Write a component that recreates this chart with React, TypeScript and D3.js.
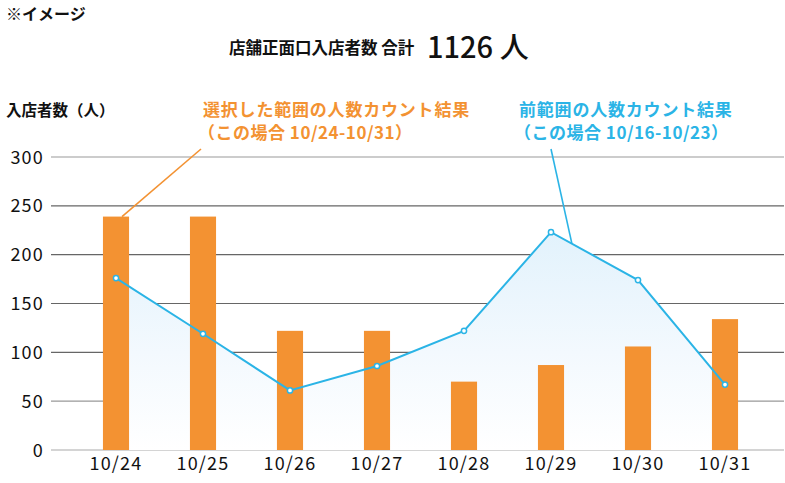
import React from 'react';
import { scaleBand, scaleLinear, line, area } from 'd3';

const dates = ['10/24', '10/25', '10/26', '10/27', '10/28', '10/29', '10/30', '10/31'];
const currentCounts = [239, 239, 122, 122, 70, 87, 106, 134];
const previousCounts = [176, 119, 61, 86, 122, 223, 174, 67];
const yTicks = [0, 50, 100, 150, 200, 250, 300];
const totalCount = 1126;

const width = 785;
const height = 483;
const font = '"Noto Sans CJK JP", "Noto Sans", sans-serif';
const orange = '#f39232';
const blue = '#2bb4e6';

export default function App() {
  const x = scaleBand<string>().domain(dates).range([72.5, 768.5]).padding(0);
  const y = scaleLinear().domain([0, 300]).range([450, 157]);
  const barW = x.bandwidth() * 0.3;
  const cx = (d: string) => x(d)! + x.bandwidth() / 2;

  const pts = dates.map((d, i) => ({ d, v: previousCounts[i] }));
  const linePath = line<{ d: string; v: number }>()
    .x(p => cx(p.d))
    .y(p => y(p.v))(pts)!;
  const areaPath = area<{ d: string; v: number }>()
    .x(p => cx(p.d))
    .y0(y(0))
    .y1(p => y(p.v))(pts)!;

  // leader line targets derived from the data
  const orangeEnd = { x: cx(dates[0]) + 6, y: y(currentCounts[0]) };
  const t = 0.24;
  const blueEnd = {
    x: cx(dates[5]) + (cx(dates[6]) - cx(dates[5])) * t,
    y: y(previousCounts[5]) + (y(previousCounts[6]) - y(previousCounts[5])) * t,
  };

  const gridColor = (v: number) => (v === 0 ? '#aaa' : v === 50 || v === 300 ? '#999' : '#666');
  const peak = y(Math.max(...previousCounts));

  return (
    <svg width={width} height={height} style={{ position: 'absolute', left: 0, top: 0 }} fontFamily={font}>
      <defs>
        <linearGradient id="areaGrad" x1="0" y1={peak} x2="0" y2={y(0)} gradientUnits="userSpaceOnUse">
          <stop offset="0" stopColor="#e2f2fc" />
          <stop offset="0.55" stopColor="#f3f9fe" />
          <stop offset="1" stopColor="#ffffff" />
        </linearGradient>
      </defs>
      <rect width={width} height={height} fill="#fff" />

      <text x={6} y={20} fontSize={16} fontWeight="bold" fill="#111">※イメージ</text>
      <text x={229} y={54} fontSize={16.5} fontWeight="bold" fill="#111">店舗正面口入店者数 合計</text>
      <text x={427} y={58} fontSize={29} fontWeight="500" fill="#111">{totalCount} 人</text>
      <text x={6} y={116} fontSize={15.5} fontWeight="bold" fill="#111">入店者数（人）</text>

      {yTicks.map(v => (
        <g key={v}>
          <line x1={51} x2={784} y1={y(v)} y2={y(v)} stroke={gridColor(v)} strokeWidth={1.2} />
          <text x={44} y={y(v) + 6.5} textAnchor="end" fontSize={18} letterSpacing={1.2} fill="#111">{v}</text>
        </g>
      ))}

      <path d={areaPath} fill="url(#areaGrad)" />

      {dates.map((d, i) => (
        <rect key={d} x={cx(d) - barW / 2} y={y(currentCounts[i])} width={barW}
          height={y(0) - y(currentCounts[i])} fill={orange} />
      ))}

      {dates.map(d => (
        <text key={d} x={cx(d)} y={470} textAnchor="middle" fontSize={18} letterSpacing={1.2} fill="#111">{d}</text>
      ))}

      <path d={linePath} fill="none" stroke={blue} strokeWidth={2} />
      {pts.map(p => (
        <circle key={p.d} cx={cx(p.d)} cy={y(p.v)} r={2.6} fill="#fff" stroke={blue} strokeWidth={1.5} />
      ))}

      <line x1={201} y1={149} x2={orangeEnd.x} y2={orangeEnd.y} stroke={orange} strokeWidth={1.6} />
      <line x1={551} y1={149} x2={blueEnd.x} y2={blueEnd.y} stroke={blue} strokeWidth={1.6} />

      <text x={203} y={116} fontSize={17} fontWeight="bold" fill={orange} letterSpacing={0.8}>選択した範囲の人数カウント結果</text>
      <text x={198} y={139} fontSize={17} fontWeight="bold" fill={orange} letterSpacing={0.5}>（この場合 10/24-10/31）</text>
      <text x={519} y={116} fontSize={17} fontWeight="bold" fill={blue} letterSpacing={0.8}>前範囲の人数カウント結果</text>
      <text x={514} y={139} fontSize={17} fontWeight="bold" fill={blue} letterSpacing={0.5}>（この場合 10/16-10/23）</text>
    </svg>
  );
}
